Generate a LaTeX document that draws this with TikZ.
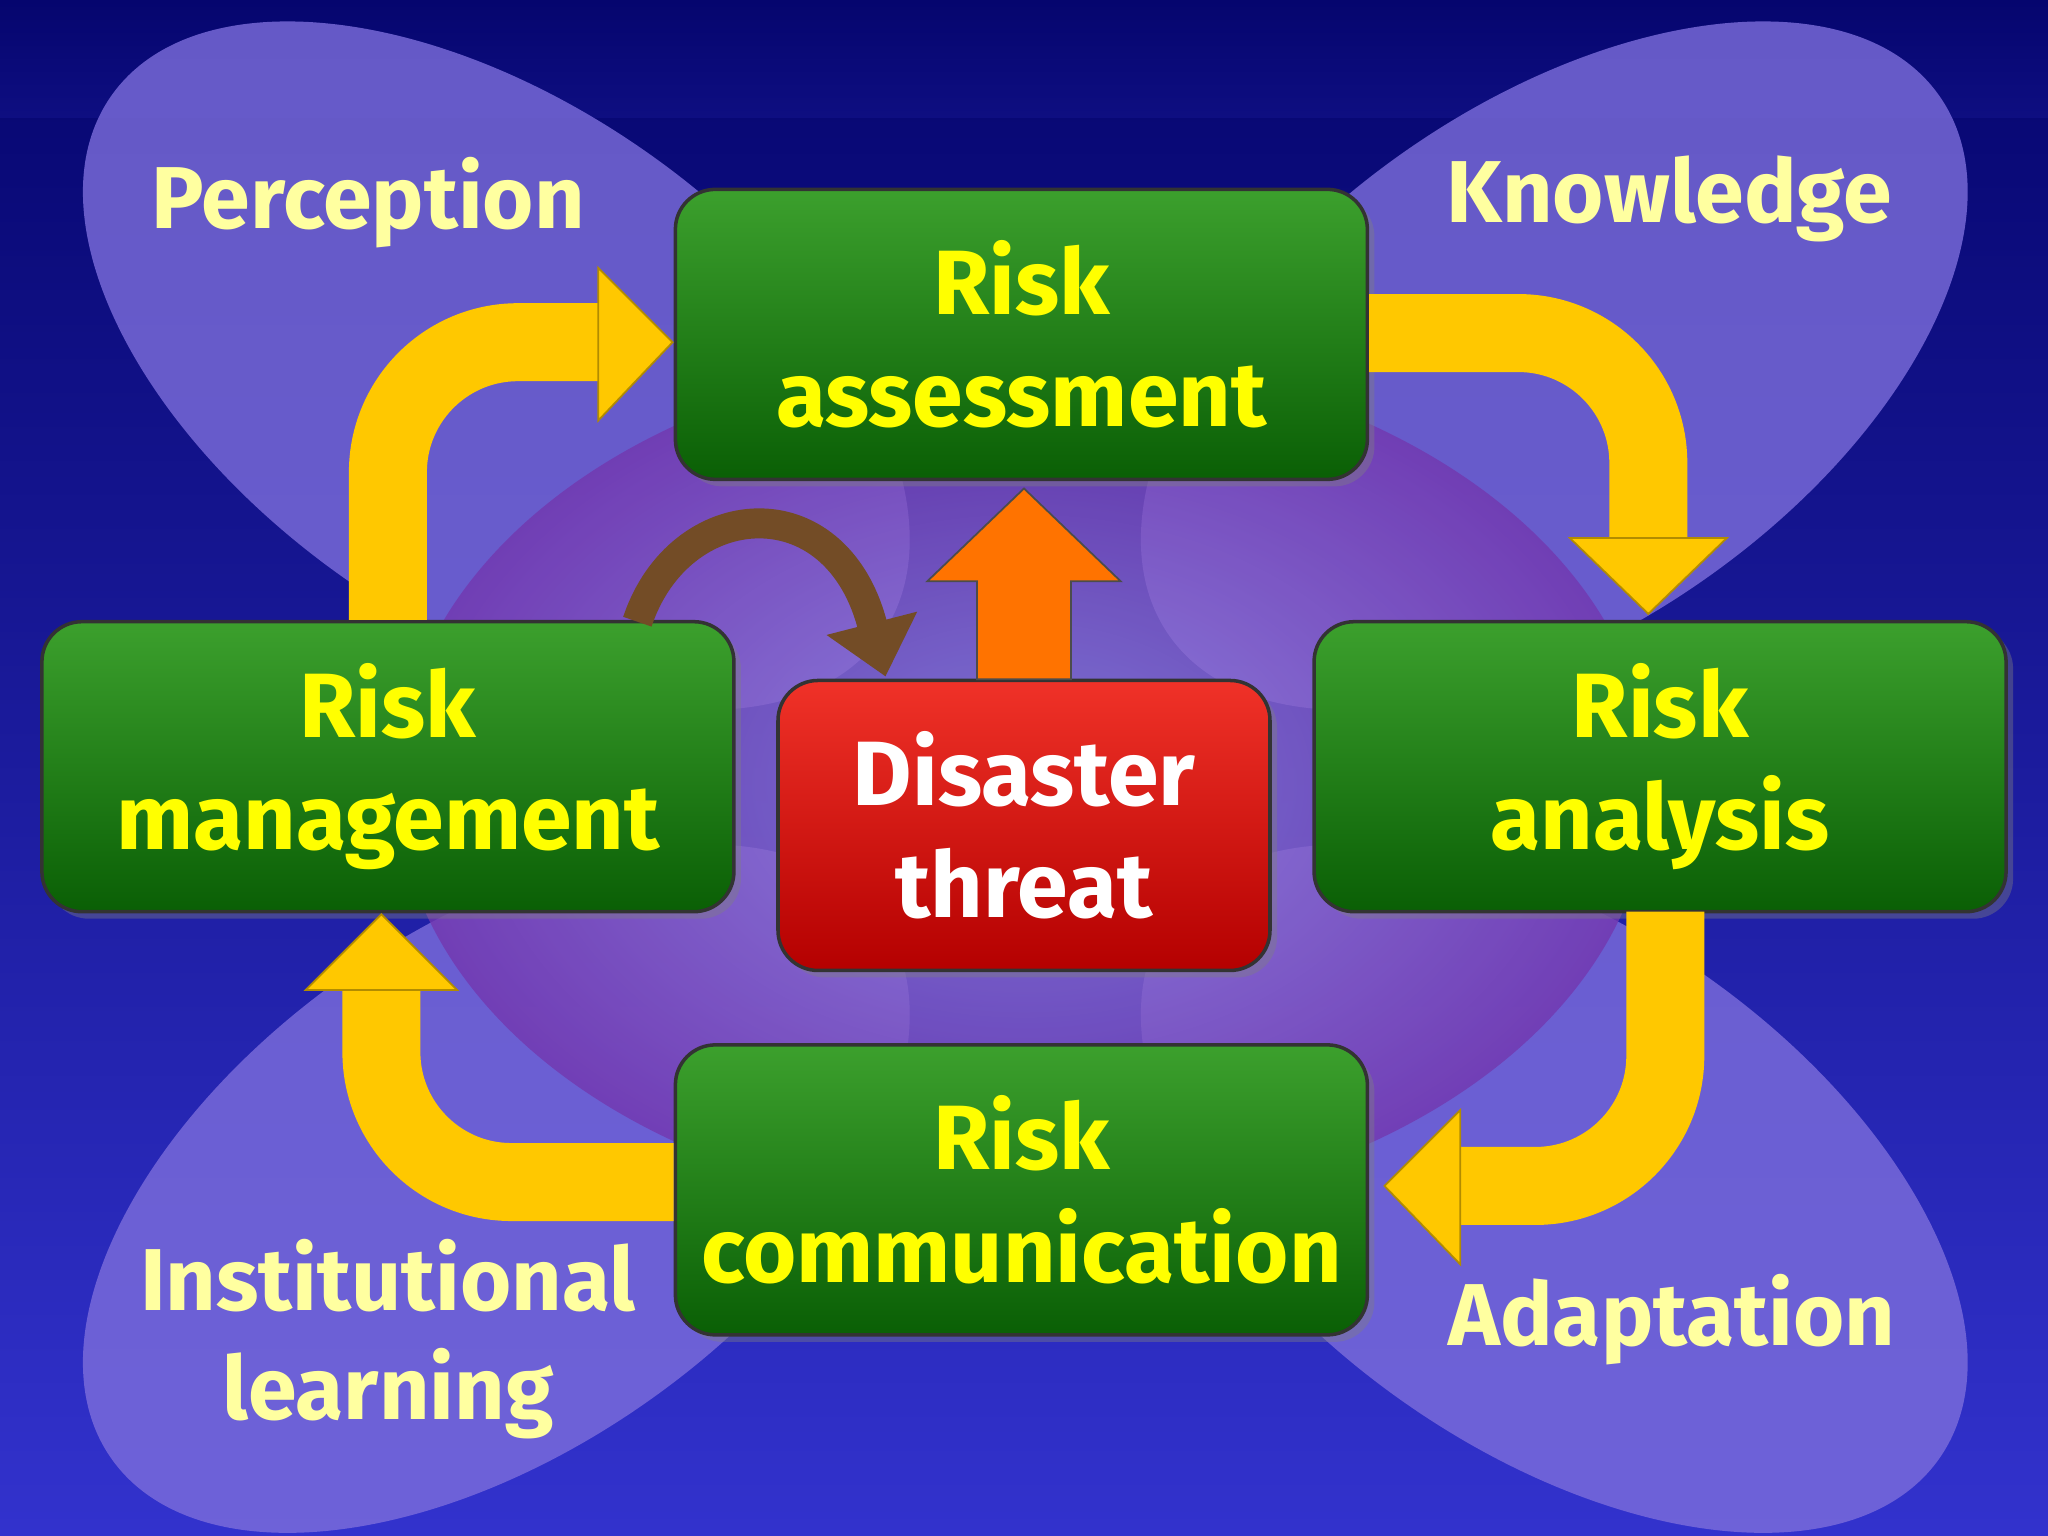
\documentclass[tikz,border=0pt]{standalone}
\usepackage{fontspec}
\setmainfont{Fira Sans}
\usetikzlibrary{arrows.meta,shadows}
\definecolor{navy}{RGB}{5,5,110}
\definecolor{bblue}{RGB}{50,50,205}
\definecolor{lobe}{RGB}{125,110,220}
\definecolor{gtop}{RGB}{60,160,45}
\definecolor{gbot}{RGB}{10,95,5}
\definecolor{rtop}{RGB}{240,50,40}
\definecolor{rbot}{RGB}{180,0,0}
\definecolor{yarrow}{RGB}{255,200,0}
\definecolor{ltext}{RGB}{255,255,160}
\definecolor{ytext}{RGB}{255,255,0}
\definecolor{mid}{RGB}{115,55,175}
\begin{document}
\begin{tikzpicture}[x=0.013061cm,y=-0.013061cm,
  box/.style={rounded corners=0.4cm,draw=black!80,line width=1pt,minimum width=6.92cm,text width=6.5cm,minimum height=2.9cm,top color=gtop,bottom color=gbot,align=center,font=\bfseries\fontsize{26}{32}\selectfont,text=ytext,
   drop shadow={shadow xshift=2pt,shadow yshift=-2pt,opacity=.4}},
  lab/.style={font=\bfseries\fontsize{25}{31}\selectfont,text=ltext,align=center},
  band/.style={draw=yarrow,line width=0.78cm,rounded corners=1.3cm},
  head/.style={fill=yarrow,draw=yarrow!70!black,line width=.5pt}]
\useasboundingbox (0,0) rectangle (1568,1176);
\shade[top color=navy,bottom color=bblue] (0,0) rectangle (1568,1176);
\shade[top color=navy,bottom color=navy!80!bblue] (0,0) rectangle (1568,90);
% lobes
\begin{scope}[opacity=.8]
\fill[lobe] (380,280) ellipse[x radius=360,y radius=200,rotate=-35];
\fill[lobe] (1190,280) ellipse[x radius=360,y radius=200,rotate=35];
\fill[lobe] (380,910) ellipse[x radius=360,y radius=200,rotate=35];
\fill[lobe] (1190,910) ellipse[x radius=360,y radius=200,rotate=-35];
\end{scope}
\shade[inner color=lobe!80!white,outer color=mid,opacity=.8] (784,600) ellipse[x radius=480,y radius=330];
% boxes
\node[box] (ra) at (782,256) {Risk\\assessment};
\node[box] (rm) at (297,587) {Risk\\management};
\node[box] (ran) at (1271,587) {Risk\\analysis};
\node[box] (rc) at (782,911) {Risk\\communication};
\node[box,minimum width=4.92cm,text width=4.6cm,top color=rtop,bottom color=rbot,text=white] (dt) at (784,632) {Disaster\\threat};
% yellow arrows
\draw[band] (rm.north -| 297,0) -- (297,262) -- (460,262);
\fill[head] (458,205) -- (515,262) -- (458,322) -- cycle;
\draw[band] (ra.east |- 0,255) -- (1262,255) -- (1262,415);
\fill[head] (1202,412) -- (1262,470) -- (1322,412) -- cycle;
\draw[band] (1275,698) -- (1275,908) -- (1115,908);
\fill[head] (1118,850) -- (1060,908) -- (1118,968) -- cycle;
\draw[band] (rc.west |- 0,905) -- (292,905) -- (292,757);
\fill[head] (234,758) -- (292,700) -- (350,758) -- cycle;
% orange arrow
\fill[orange!90!red,draw=black!70,line width=.5pt] (748,520) -- (748,445) -- (710,445) -- (784,374) -- (858,445) -- (820,445) -- (820,520) -- cycle;
% brown arrow
\draw[draw=brown!60!black,line width=0.3cm,-{Triangle[length=0.55cm,width=0.9cm]}] (488,476) .. controls (520,380) and (640,370) .. (678,518);
% labels
\node[lab] (pe) at (282,155) {Perception};
\node[lab] (kn) at (1278,152) {Knowledge};
\node[lab] (il) at (297,1025) {Institutional\\learning};
\node[lab] (ad) at (1280,1010) {Adaptation};
\end{tikzpicture}
\end{document}
